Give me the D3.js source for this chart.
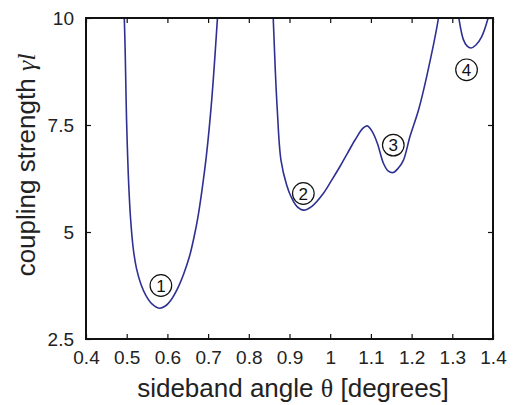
<!DOCTYPE html>
<html lang="en">
<head>
	<meta charset="UTF-8">
	<title>Coupling strength vs sideband angle</title>
	<script src="https://cdn.jsdelivr.net/npm/d3@7/dist/d3.min.js"></script>
	<style>
		html, body { margin: 0; padding: 0; background: #fff; }
		svg { display: block; font-family: "Liberation Sans", Arial, sans-serif; }
	</style>
</head>
<body>
	<svg id="chart" width="515" height="405"></svg>

	<script>
		// curve pieces (sideband angle in degrees, coupling strength)
		var theta1 = [0.488, 0.494, 0.500, 0.505, 0.510, 0.516, 0.524, 0.535, 0.547, 0.562, 0.580, 0.595, 0.608, 0.624, 0.640, 0.654, 0.665, 0.675, 0.685, 0.696, 0.709, 0.723, 0.728];
		var gamma1 = [11.0, 10.0, 7.5, 6.1, 5.25, 4.62, 4.15, 3.78, 3.52, 3.32, 3.22, 3.27, 3.40, 3.66, 4.02, 4.42, 4.86, 5.35, 5.98, 6.8, 8.1, 10.0, 10.8];

		var theta2 = [0.855, 0.860, 0.865, 0.870, 0.879, 0.893, 0.905, 0.918, 0.935, 0.955, 0.983, 1.003, 1.024, 1.043, 1.061, 1.080, 1.091, 1.103, 1.116, 1.131, 1.143, 1.155, 1.168, 1.180, 1.196, 1.217, 1.237, 1.266, 1.272];
		var gamma2 = [11.0, 10.0, 8.8, 7.85, 6.68, 6.1, 5.8, 5.6, 5.51, 5.6, 5.9, 6.2, 6.53, 6.85, 7.15, 7.42, 7.48, 7.35, 7.07, 6.6, 6.42, 6.39, 6.5, 6.68, 7.23, 7.85, 8.63, 10.0, 10.5];

		var theta3 = [1.312, 1.316, 1.327, 1.336, 1.346, 1.358, 1.372, 1.388, 1.395];
		var gamma3 = [10.3, 10.0, 9.5, 9.35, 9.30, 9.37, 9.56, 10.0, 10.3];

		// circled mode labels
		var markLabels = ["1", "2", "3", "4"];
		var markTheta = [0.584, 0.934, 1.155, 1.335];
		var markGamma = [3.75, 5.90, 7.03, 8.79];

		var xTicks = [0.4, 0.5, 0.6, 0.7, 0.8, 0.9, 1.0, 1.1, 1.2, 1.3, 1.4];
		var yTicks = [2.5, 5, 7.5, 10];

		var svg = d3.select("#chart");
		var padL = 86, padR = 493, padT = 18, padB = 339;

		var x = d3.scaleLinear().domain([0.4, 1.4]).range([padL, padR]);
		var y = d3.scaleLinear().domain([2.5, 10]).range([padB, padT]);

		svg.append("clipPath").attr("id", "plotclip")
			.append("rect")
			.attr("x", padL).attr("y", padT)
			.attr("width", padR - padL).attr("height", padB - padT);

		var line = d3.line()
			.x(function(d) { return x(d[0]); })
			.y(function(d) { return y(d[1]); })
			.curve(d3.curveCatmullRom.alpha(0.5));

		var pieces = [d3.zip(theta1, gamma1), d3.zip(theta2, gamma2), d3.zip(theta3, gamma3)];

		svg.append("g").attr("clip-path", "url(#plotclip)")
			.selectAll("path").data(pieces).enter().append("path")
			.attr("d", line)
			.attr("fill", "none")
			.attr("stroke", "#2e3192")
			.attr("stroke-width", 1.6);

		// axes, ticks pointing inward, box around the plot
		var fmt = function(d) { return String(+d.toFixed(1)); };

		svg.append("g").attr("transform", "translate(0," + padB + ")")
			.call(d3.axisBottom(x).tickValues(xTicks).tickSize(-5).tickPadding(12).tickFormat(fmt))
			.call(function(g) { g.select(".domain").remove(); });

		svg.append("g").attr("transform", "translate(0," + padT + ")")
			.call(d3.axisTop(x).tickValues(xTicks).tickSize(-5).tickFormat(""))
			.call(function(g) { g.select(".domain").remove(); });

		svg.append("g").attr("transform", "translate(" + padL + ",0)")
			.call(d3.axisLeft(y).tickValues(yTicks).tickSize(-5).tickPadding(12).tickFormat(fmt))
			.call(function(g) { g.select(".domain").remove(); });

		svg.append("g").attr("transform", "translate(" + padR + ",0)")
			.call(d3.axisRight(y).tickValues(yTicks).tickSize(-5).tickFormat(""))
			.call(function(g) { g.select(".domain").remove(); });

		svg.selectAll(".tick line").attr("stroke", "#111").attr("stroke-width", 1.2);
		svg.selectAll(".tick text")
			.attr("fill", "#222")
			.style("font-family", "'Liberation Sans', Arial, sans-serif")
			.style("font-size", "19px");

		svg.append("rect")
			.attr("x", padL).attr("y", padT)
			.attr("width", padR - padL).attr("height", padB - padT)
			.attr("fill", "none")
			.attr("stroke", "#111")
			.attr("stroke-width", 2);

		// circled numbers
		var marks = svg.append("g").selectAll("g")
			.data(d3.zip(markLabels, markTheta, markGamma))
			.enter().append("g")
			.attr("transform", function(d) { return "translate(" + x(d[1]) + "," + y(d[2]) + ")"; });

		marks.append("circle")
			.attr("r", 10.8)
			.attr("fill", "none")
			.attr("stroke", "#111")
			.attr("stroke-width", 1.2);

		marks.append("text")
			.attr("text-anchor", "middle")
			.attr("dy", "0.36em")
			.attr("fill", "#111")
			.style("font-size", "17px")
			.text(function(d) { return d[0]; });

		// axis titles
		var xt = svg.append("text")
			.attr("x", 293).attr("y", 397)
			.attr("text-anchor", "middle")
			.attr("fill", "#222")
			.style("font-size", "26px");
		xt.append("tspan").text("sideband angle ");
		xt.append("tspan").style("font-family", "'Liberation Serif', serif").text("θ");
		xt.append("tspan").text(" [degrees]");

		var yt = svg.append("text")
			.attr("transform", "translate(35,165) rotate(-90)")
			.attr("text-anchor", "middle")
			.attr("fill", "#222")
			.style("font-size", "26px");
		yt.append("tspan").text("coupling strength ");
		yt.append("tspan")
			.style("font-family", "'Liberation Serif', serif")
			.style("font-style", "italic")
			.text("γl");
	</script>
</body>
</html>
